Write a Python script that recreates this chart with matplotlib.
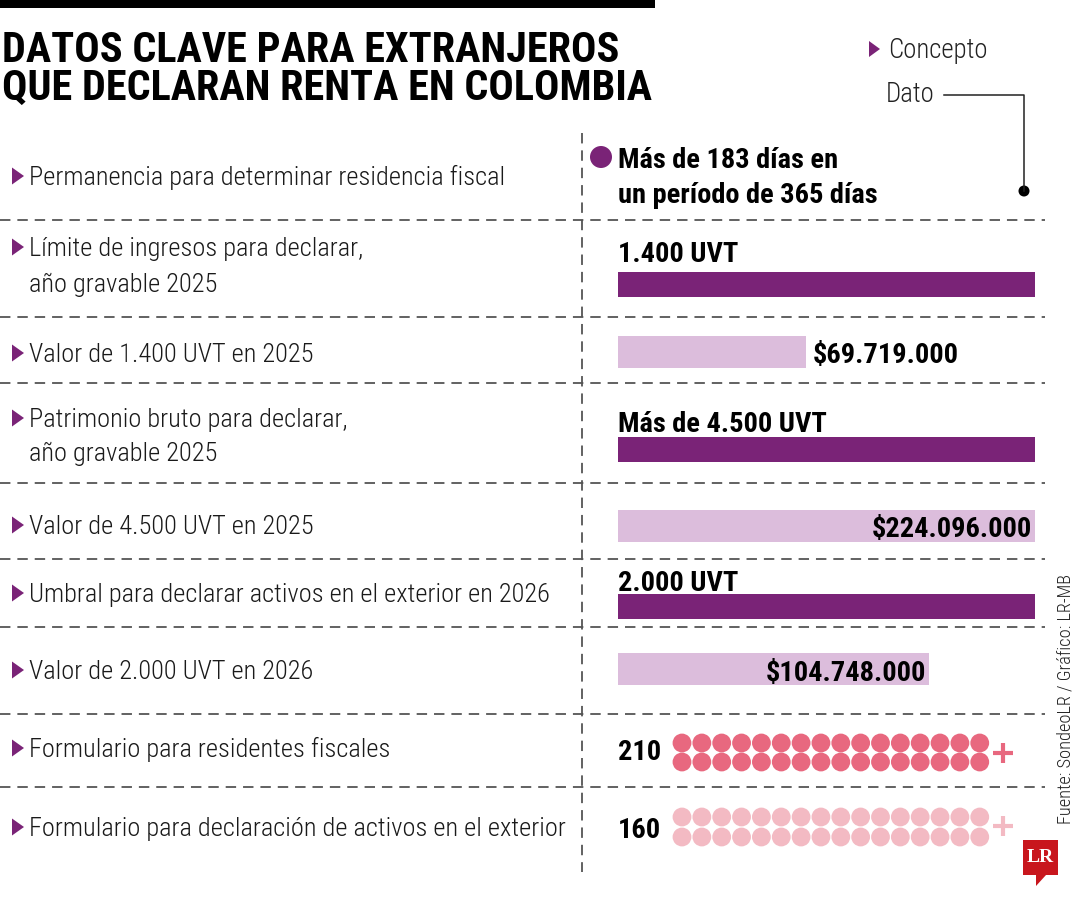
import os
import matplotlib
matplotlib.use("Agg")
import matplotlib.pyplot as plt
from matplotlib import font_manager as fm
from matplotlib.font_manager import FontProperties
from matplotlib.patches import Polygon, Rectangle, Circle

# ---------------- data ----------------
title_lines = ["DATOS CLAVE PARA EXTRANJEROS", "QUE DECLARAN RENTA EN COLOMBIA"]
legend_concept = "Concepto"
legend_value = "Dato"

concept_labels = [
    ["Permanencia para determinar residencia fiscal"],
    ["Límite de ingresos para declarar,", "año gravable 2025"],
    ["Valor de 1.400 UVT en 2025"],
    ["Patrimonio bruto para declarar,", "año gravable 2025"],
    ["Valor de 4.500 UVT en 2025"],
    ["Umbral para declarar activos en el exterior en 2026"],
    ["Valor de 2.000 UVT en 2026"],
    ["Formulario para residentes fiscales"],
    ["Formulario para declaración de activos en el exterior"],
]
residence_text = ["Más de 183 días en", "un período de 365 días"]
uvt_labels = ["1.400 UVT", "Más de 4.500 UVT", "2.000 UVT"]
uvt_bar_share = [1.0, 1.0, 1.0]
peso_labels = ["$69.719.000", "$224.096.000", "$104.748.000"]
peso_bar_share = [0.45, 1.0, 0.745]
form_numbers = ["210", "160"]
form_icons_per_row = [16, 16]
form_icon_rows = [2, 2]
source_text = "Fuente: SondeoLR / Gráfico: LR-MB"

# ---------------- style / layout ----------------
W, H = 1080, 900
PURPLE = "#7A2377"
LILAC = "#DCBDDC"
PINK = "#E8687F"
PINK_LIGHT = "#F3BAC3"
GRID = "#555555"
LR_RED = "#C8161D"

plt.rcParams["lines.scale_dashes"] = False

# font selection (condensed families preferred)
ttf = fm.fontManager.ttflist


def wnum(w):
    if isinstance(w, (int, float)):
        return int(w)
    return fm.weight_dict.get(str(w).lower(), 400)


def find(name_sub, weight):
    best = None
    for f in ttf:
        if name_sub.lower() == f.name.lower():
            if "italic" in f.style.lower() or "oblique" in f.style.lower():
                continue
            d = abs(wnum(f.weight) - weight)
            if best is None or d < best[0]:
                best = (d, f.fname)
    if best is not None and best[0] <= 100:
        return best[1]
    return None


def choose(weight, fallback_family, fallback_weight):
    for nm in ["Roboto Condensed", "Asap Condensed", "Archivo Narrow",
               "Open Sans Condensed", "Liberation Sans Narrow"]:
        p = find(nm, weight)
        if p:
            return FontProperties(fname=p)
    for f in ttf:
        base = os.path.basename(f.fname)
        if weight >= 600 and base == "DejaVuSansCondensed-Bold.ttf":
            return FontProperties(fname=f.fname)
        if weight < 600 and base == "DejaVuSansCondensed.ttf":
            return FontProperties(fname=f.fname)
    return FontProperties(family=fallback_family, weight=fallback_weight)


FP_LIGHT = choose(300, "Roboto", "light")
FP_BOLD = choose(700, "Roboto", "bold")
FP_SERIF_BOLD = FontProperties(family="Liberation Serif", weight="bold")

fig = plt.figure(figsize=(W / 100, H / 100), dpi=100)
ax = fig.add_axes([0, 0, 1, 1])
ax.set_xlim(0, W)
ax.set_ylim(H, 0)
ax.axis("off")
R = fig.canvas.get_renderer()


def fit_size(s, fp, target_px, max_pt, rotation=0):
    t = ax.text(0, 0, s, fontproperties=fp, fontsize=max_pt, rotation=rotation)
    bb = t.get_window_extent(renderer=R)
    t.remove()
    length = bb.height if rotation else bb.width
    return max_pt if length <= target_px else max_pt * target_px / length


def triangle(xl, yc, w=12, h=16, color=PURPLE):
    ax.add_patch(Polygon([(xl, yc - h / 2), (xl + w, yc), (xl, yc + h / 2)],
                         closed=True, color=color, lw=0))


# top black strip
ax.add_patch(Rectangle((0, 0), 655, 8, color="black", lw=0))

# title
title_size = fit_size(title_lines[1], FP_BOLD, 652, 32)
for line, base in zip(title_lines, [62, 100]):
    ax.text(2, base, line, fontproperties=FP_BOLD, fontsize=title_size,
            ha="left", va="baseline", color="black")

# legend
leg_size = fit_size(legend_concept, FP_LIGHT, 99, 21)
triangle(869, 49, w=11, h=16)
ax.text(888, 58, legend_concept, fontproperties=FP_LIGHT, fontsize=leg_size,
        ha="left", va="baseline", color="#222222")
ax.text(886, 102, legend_value, fontproperties=FP_LIGHT, fontsize=leg_size,
        ha="left", va="baseline", color="#222222")
ax.plot([944, 1024, 1024], [95, 95, 191], color="#222222", lw=1.1)
ax.add_patch(Circle((1024, 191), 5.5, color="black", lw=0))

# grid lines
row_separators = [220, 317, 383, 483, 559, 627, 714, 787]
for y in row_separators:
    ax.plot([0, 1045], [y, y], color=GRID, lw=1.3, dashes=(7.5, 5))
ax.plot([582, 582], [133, 872], color=GRID, lw=1.3, dashes=(7.5, 5))

# concept labels (left column)
label_baselines = [[185], [256, 292], [362], [427, 461], [534], [602], [679], [757], [836]]
lab_size = fit_size(concept_labels[-1][0], FP_LIGHT, 535, 20)
for lines, bases in zip(concept_labels, label_baselines):
    triangle(12, bases[0] - 9, w=12, h=17)
    for line, b in zip(lines, bases):
        ax.text(29, b, line, fontproperties=FP_LIGHT, fontsize=lab_size,
                ha="left", va="baseline", color="#1a1a1a")

# values (right column)
val_size = fit_size(uvt_labels[1], FP_BOLD, 210, 24)

# residence
ax.add_patch(Circle((601, 157), 11, color=PURPLE, lw=0))
for line, b in zip(residence_text, [168, 203]):
    ax.text(618, b, line, fontproperties=FP_BOLD, fontsize=val_size,
            ha="left", va="baseline", color="black")

# bars on their own axes (x = share of full bar length)
axb = fig.add_axes([618 / W, 0, 417 / W, 1])
axb.set_xlim(0, 1)
axb.set_ylim(H, 0)
axb.axis("off")

uvt_bar_centers = [284, 449.5, 606]
uvt_text_base = [262, 432, 591]
axb.barh(uvt_bar_centers, uvt_bar_share, height=25, left=0, color=PURPLE)
for lab, b in zip(uvt_labels, uvt_text_base):
    axb.text(0, b, lab, fontproperties=FP_BOLD, fontsize=val_size,
             ha="left", va="baseline", color="black")

peso_bar_centers = [352, 525.5, 669]
peso_text_base = [363, 537, 681]
peso_bars = axb.barh(peso_bar_centers, peso_bar_share, height=32, left=0, color=LILAC)
for bar, lab, b in zip(peso_bars, peso_labels, peso_text_base):
    end = bar.get_width()
    if end > 0.6:
        axb.annotate(lab, xy=(end, b), xytext=(-3, 0), textcoords="offset pixels",
                     fontproperties=FP_BOLD, fontsize=val_size,
                     ha="right", va="baseline", color="black")
    else:
        axb.annotate(lab, xy=(end, b), xytext=(7, 0), textcoords="offset pixels",
                     fontproperties=FP_BOLD, fontsize=val_size,
                     ha="left", va="baseline", color="black")

# forms with icon dots
form_text_base = [760, 838]
form_row_centers = [[743, 762], [817, 837]]
form_colors = [PINK, PINK_LIGHT]
plus_centers = [753, 826]
for num, b, rows, col, pc, npr, nrows in zip(form_numbers, form_text_base, form_row_centers,
                                             form_colors, plus_centers,
                                             form_icons_per_row, form_icon_rows):
    ax.text(618, b, num, fontproperties=FP_BOLD, fontsize=val_size,
            ha="left", va="baseline", color="black")
    for r in range(nrows):
        for i in range(npr):
            ax.add_patch(Circle((682 + i * 19.85, rows[r]), 9.4, color=col, lw=0))
    ax.plot([993, 1013], [pc, pc], color=col, lw=3, solid_capstyle="butt")
    ax.plot([1003, 1003], [pc - 10, pc + 10], color=col, lw=3, solid_capstyle="butt")

# source (rotated)
src_size = fit_size(source_text, FP_LIGHT, 250, 14, rotation=90)
ax.text(1065, 699, source_text, fontproperties=FP_LIGHT, fontsize=src_size,
        rotation=90, ha="center", va="center", color="#222222")

# LR logo
ax.add_patch(Polygon([(1023, 840), (1058, 840), (1058, 875), (1046, 875),
                      (1036, 886), (1036, 875), (1023, 875)], closed=True,
                     color=LR_RED, lw=0))
ax.text(1040.5, 858, "LR", fontproperties=FP_SERIF_BOLD, fontsize=14,
        ha="center", va="center", color="white")

fig.savefig("out.png", dpi=100)
